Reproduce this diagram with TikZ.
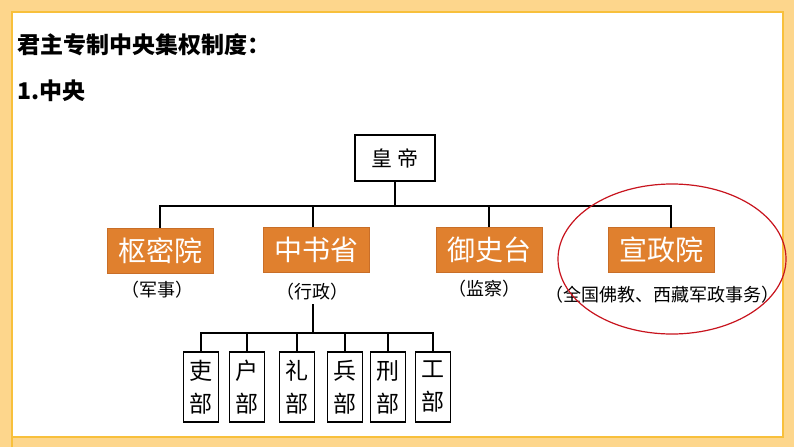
\documentclass[tikz,border=0pt]{standalone}
\usepackage{fontspec}
\newfontfamily\cjk{Noto Sans CJK SC}
\definecolor{frameL}{RGB}{253,214,140}
\definecolor{frameD}{RGB}{248,192,60}
\definecolor{orangeF}{RGB}{224,128,46}
\definecolor{orangeD}{RGB}{200,110,40}
\definecolor{redline}{RGB}{200,20,30}
\tikzset{
  plain/.style={draw=black, line width=1.2pt, fill=white, inner sep=0pt},
  orbox/.style={draw=orangeD, line width=0.6pt, fill=orangeF, text=white, minimum width=106pt, minimum height=45pt, inner sep=0pt, font=\cjk\fontsize{28}{30}\selectfont},
  lab/.style={font=\cjk\fontsize{18}{20}\selectfont, inner sep=0pt},
  dept/.style={plain, minimum width=35pt, minimum height=70pt, align=center, font=\cjk\fontsize{23}{33}\selectfont},
  conn/.style={line width=1.4pt, black}
}
\begin{document}
\begin{tikzpicture}[x=1pt,y=-1pt]
\useasboundingbox (0,0) rectangle (794,447);
% frame
\fill[frameL] (0,0) rectangle (794,447);
\fill[white] (12,12) rectangle (783,437);
\draw[frameD, line width=1.5pt] (12,447) -- (12,12) -- (783,12) -- (783,437) -- (12,437);
% titles
\node[anchor=west, inner sep=0pt, font=\cjk\bfseries\fontsize{23}{26}\selectfont] (title) at (17,45) {君主专制中央集权制度：};
\node[anchor=west, inner sep=0pt, font=\cjk\bfseries\fontsize{23}{26}\selectfont] (sub) at (17,91) {1.中央};
% emperor
\node[plain, minimum width=80pt, minimum height=46pt, font=\cjk\fontsize{21}{24}\selectfont] (hd) at (395,158) {皇\hspace{6pt}帝};
% orange boxes
\node[orbox] (smy) at (160,250.5) {枢密院};
\node[orbox] (zsx) at (316,249.5) {中书省};
\node[orbox] (yst) at (489,249.5) {御史台};
\node[orbox] (xzy) at (661,249.5) {宣政院};
% labels
\node[lab] (l1) at (157,290) {（军事）};
\node[lab] (l2) at (312,292) {（行政）};
\node[lab] (l3) at (484,289) {（监察）};
\node[lab] (l4) at (662,295) {（全国佛教、西藏军政事务）};
% connectors top
\coordinate (bar) at (0,206);
\draw[conn] (hd.south) -- (hd.south |- bar);
\draw[conn] (smy.north) -- (smy.north |- bar) -- (671,206) -- (671,228);
\draw[conn] (313,206) -- (313,227);
\draw[conn] (489,206) -- (489,227);
% departments
\node[dept] (d1) at (201,387) {吏\\部};
\node[dept] (d2) at (247,387) {户\\部};
\node[dept] (d3) at (297,387) {礼\\部};
\node[dept] (d4) at (345,387) {兵\\部};
\node[dept] (d5) at (388,387) {刑\\部};
\node[dept] (d6) at (433,387) {工\\部};
\coordinate (bar2) at (0,333);
\draw[conn] (313,304) -- (313,333);
\draw[conn] (d1.north) -- (d1.north |- bar2) -- (d6.north |- bar2) -- (d6.north);
\foreach \n in {d2,d3,d4,d5} \draw[conn] (\n.north) -- (\n.north |- bar2);
% red ellipse
\draw[redline, line width=1.2pt] (672,259) ellipse [x radius=114, y radius=75];
\end{tikzpicture}
\end{document}
